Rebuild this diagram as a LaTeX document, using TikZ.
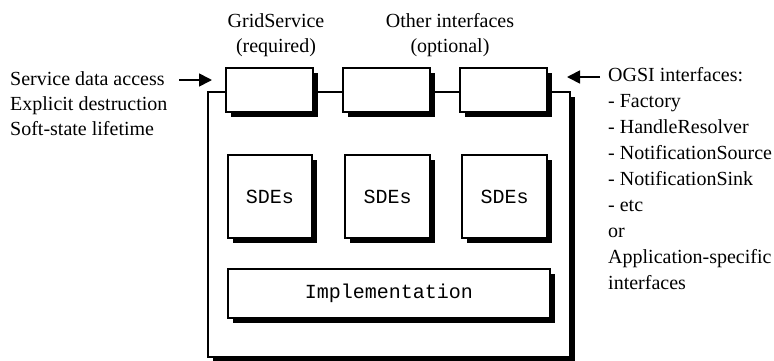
\documentclass[tikz,border=0pt]{standalone}
\usepackage{fontspec}
\setmainfont{Liberation Serif}
\setmonofont{Liberation Mono}
\usetikzlibrary{arrows.meta}
\tikzset{
  txt/.style={inner sep=0pt, anchor=base west, font=\fontsize{20}{25}\selectfont},
  ctxt/.style={inner sep=0pt, anchor=base, font=\fontsize{20}{25}\selectfont},
  mono/.style={inner sep=0pt, font=\fontsize{20}{25}\selectfont\ttfamily},
  edge/.style={line width=1.7pt},
  shade/.style={fill=black},
  arr/.style={line width=1.7pt, -{Triangle[length=13pt,width=13pt]}},
}
% boxed panel with a black drop shadow
\newcommand{\shadowbox}[5]{%
  \fill[shade] (#2+5,#3+5) rectangle (#4+5,#5+5);
  \draw[edge,fill=white] (#2,#3) rectangle (#4,#5);
  \coordinate (#1) at ({(#2+#4)/2},{(#3+#5)/2});
}
\begin{document}
\begin{tikzpicture}[x=1pt,y=-1pt]
\useasboundingbox (0,0) rectangle (774,360);

% service container
\shadowbox{svc}{208}{92}{570}{357}

% port interfaces on the top edge
\shadowbox{p1}{226}{68}{313}{112}
\shadowbox{p2}{343}{68}{430}{112}
\shadowbox{p3}{460}{68}{547}{112}

% service data elements
\shadowbox{s1}{228}{155}{312}{238}
\shadowbox{s2}{345}{155}{430}{238}
\shadowbox{s3}{462}{155}{547}{238}
\node[mono] (sde1) at (s1) {SDEs};
\node[mono] (sde2) at (s2) {SDEs};
\node[mono] (sde3) at (s3) {SDEs};

% implementation
\shadowbox{im}{228}{269}{550}{318}
\node[mono] (impl) at (im) {Implementation};

% headings above the ports
\node[ctxt] (gs1) at (276,27) {GridService};
\node[ctxt] (gs2) at (276,52) {(required)};
\node[ctxt] (oi1) at (450,27) {Other interfaces};
\node[ctxt] (oi2) at (450,52) {(optional)};

% left annotations
\node[txt] (l1) at (10,85) {Service data access};
\node[txt] (l2) at (10,110) {Explicit destruction};
\node[txt] (l3) at (10,135) {Soft-state lifetime};
\coordinate (la) at (179,80);
\coordinate (lb) at (212,80);
\draw[arr] (la) -- (lb);

% right annotations
\node[txt] (r1) at (608,81) {OGSI interfaces:};
\node[txt] (r2) at (608,107) {- Factory};
\node[txt] (r3) at (608,133) {- HandleResolver};
\node[txt] (r4) at (608,159) {- NotificationSource};
\node[txt] (r5) at (608,185) {- NotificationSink};
\node[txt] (r6) at (608,211) {- etc};
\node[txt] (r7) at (608,237) {or};
\node[txt] (r8) at (608,263) {Application-specific};
\node[txt] (r9) at (608,289) {interfaces};
\coordinate (ra) at (600,77);
\coordinate (rb) at (567,77);
\draw[arr] (ra) -- (rb);
\end{tikzpicture}
\end{document}
